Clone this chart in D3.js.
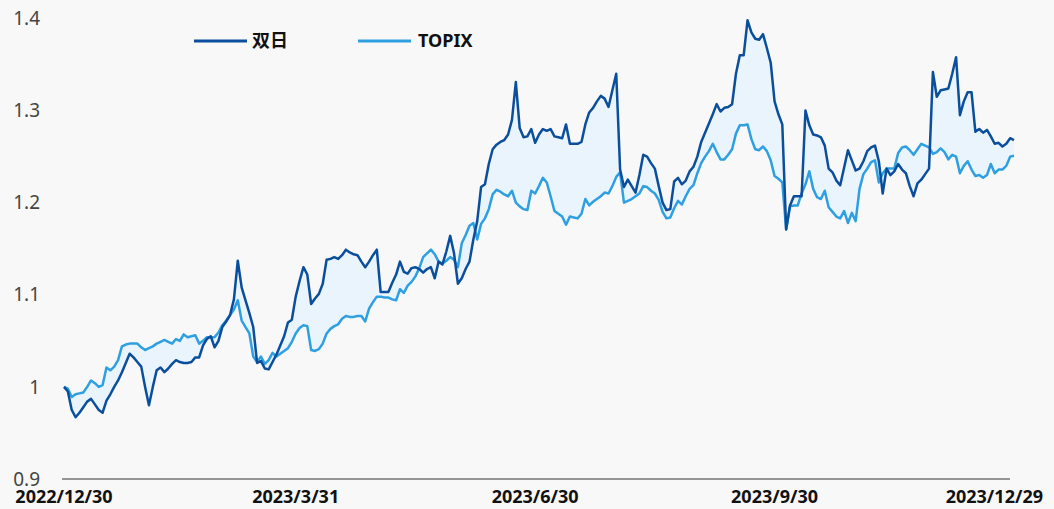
<!DOCTYPE html>
<html lang="ja">
<head>
<meta charset="UTF-8">
<title>双日 vs TOPIX</title>
<script src="https://d3js.org/d3.v7.min.js"></script>
<style>
  body { margin: 0; background: #f8f8f8; }
  svg { display: block; font-family: "Noto Sans", "Noto Sans CJK JP", sans-serif; }
</style>
</head>
<body>
<div id="chart"></div>
<script>
// 2022/12/30 = 1 として指数化（営業日ごと）
const sojitz = [
  1.000, 0.995, 0.975, 0.967, 0.972, 0.978, 0.984, 0.987, 0.981, 0.975,
  0.972, 0.985, 0.992, 1.000, 1.007, 1.016, 1.026, 1.036, 1.032, 1.027,
  1.022, 1.000, 0.980, 1.000, 1.018, 1.021, 1.016, 1.020, 1.025, 1.029,
  1.027, 1.026, 1.026, 1.027, 1.032, 1.032, 1.045, 1.052, 1.055, 1.043,
  1.050, 1.065, 1.071, 1.078, 1.095, 1.137, 1.108, 1.094, 1.080, 1.065,
  1.026, 1.028, 1.020, 1.019, 1.027, 1.035, 1.045, 1.055, 1.070, 1.073,
  1.098, 1.115, 1.130, 1.122, 1.090, 1.096, 1.101, 1.112, 1.138, 1.139,
  1.141, 1.139, 1.143, 1.149, 1.146, 1.144, 1.143, 1.136, 1.130, 1.136,
  1.143, 1.149, 1.103, 1.103, 1.103, 1.113, 1.122, 1.136, 1.125, 1.123,
  1.129, 1.130, 1.128, 1.124, 1.128, 1.130, 1.118, 1.136, 1.133, 1.147,
  1.164, 1.145, 1.112, 1.118, 1.128, 1.136, 1.160, 1.180, 1.217, 1.220,
  1.242, 1.258, 1.263, 1.266, 1.268, 1.274, 1.290, 1.331, 1.281, 1.271,
  1.272, 1.280, 1.265, 1.274, 1.280, 1.278, 1.280, 1.272, 1.271, 1.270,
  1.285, 1.264, 1.264, 1.264, 1.266, 1.285, 1.298, 1.303, 1.310, 1.316,
  1.313, 1.304, 1.322, 1.340, 1.236, 1.217, 1.225, 1.218, 1.211, 1.230,
  1.252, 1.250, 1.243, 1.237, 1.218, 1.200, 1.192, 1.193, 1.223, 1.227,
  1.220, 1.224, 1.234, 1.239, 1.250, 1.266, 1.276, 1.286, 1.296, 1.307,
  1.299, 1.303, 1.304, 1.307, 1.340, 1.360, 1.360, 1.398, 1.385, 1.378,
  1.377, 1.383, 1.368, 1.352, 1.310, 1.296, 1.285, 1.171, 1.197, 1.207,
  1.207, 1.207, 1.300, 1.284, 1.274, 1.273, 1.271, 1.262, 1.237, 1.233,
  1.224, 1.219, 1.238, 1.257, 1.246, 1.235, 1.237, 1.245, 1.256, 1.260,
  1.262, 1.245, 1.210, 1.237, 1.230, 1.234, 1.242, 1.236, 1.232, 1.218,
  1.207, 1.221, 1.225, 1.231, 1.237, 1.342, 1.315, 1.322, 1.323, 1.324,
  1.340, 1.358, 1.295, 1.310, 1.320, 1.320, 1.277, 1.280, 1.276, 1.279,
  1.272, 1.264, 1.265, 1.261, 1.264, 1.270, 1.268
];
const topix = [
  1.000, 0.998, 0.989, 0.992, 0.993, 0.994, 1.000, 1.007, 1.004, 1.000,
  1.002, 1.021, 1.018, 1.022, 1.029, 1.044, 1.046, 1.047, 1.047, 1.047,
  1.043, 1.040, 1.042, 1.044, 1.047, 1.049, 1.051, 1.049, 1.047, 1.052,
  1.050, 1.057, 1.054, 1.055, 1.056, 1.047, 1.050, 1.054, 1.054, 1.054,
  1.059, 1.067, 1.072, 1.078, 1.084, 1.094, 1.072, 1.065, 1.058, 1.033,
  1.027, 1.033, 1.025, 1.029, 1.037, 1.033, 1.036, 1.039, 1.042, 1.049,
  1.058, 1.064, 1.067, 1.066, 1.040, 1.039, 1.041, 1.047, 1.058, 1.063,
  1.066, 1.068, 1.074, 1.077, 1.076, 1.076, 1.077, 1.077, 1.071, 1.085,
  1.092, 1.098, 1.098, 1.097, 1.097, 1.095, 1.094, 1.106, 1.102, 1.110,
  1.114, 1.120, 1.129, 1.141, 1.145, 1.149, 1.144, 1.136, 1.134, 1.137,
  1.141, 1.138, 1.130, 1.156, 1.165, 1.175, 1.178, 1.160, 1.177, 1.183,
  1.193, 1.209, 1.214, 1.212, 1.209, 1.207, 1.213, 1.200, 1.196, 1.193,
  1.192, 1.213, 1.210, 1.218, 1.227, 1.222, 1.207, 1.191, 1.188, 1.185,
  1.176, 1.185, 1.184, 1.183, 1.188, 1.204, 1.197, 1.201, 1.204, 1.207,
  1.211, 1.210, 1.218, 1.228, 1.233, 1.200, 1.202, 1.204, 1.207, 1.210,
  1.218, 1.217, 1.213, 1.210, 1.203, 1.190, 1.183, 1.184, 1.194, 1.202,
  1.198, 1.207, 1.215, 1.219, 1.232, 1.243, 1.250, 1.256, 1.264, 1.255,
  1.247, 1.247, 1.252, 1.258, 1.275, 1.284, 1.284, 1.285, 1.269, 1.258,
  1.257, 1.261, 1.256, 1.246, 1.229, 1.226, 1.222, 1.171, 1.196, 1.197,
  1.197, 1.210, 1.220, 1.234, 1.215, 1.206, 1.204, 1.213, 1.195, 1.190,
  1.185, 1.183, 1.191, 1.178, 1.189, 1.180, 1.215, 1.231, 1.237, 1.244,
  1.246, 1.222, 1.232, 1.237, 1.237, 1.237, 1.254, 1.260, 1.261, 1.257,
  1.252, 1.258, 1.264, 1.262, 1.260, 1.253, 1.255, 1.259, 1.255, 1.247,
  1.252, 1.250, 1.232, 1.240, 1.245, 1.236, 1.229, 1.230, 1.227, 1.230,
  1.242, 1.232, 1.236, 1.236, 1.240, 1.250, 1.251
];
const seriesNames = ["双日", "TOPIX"];
const seriesColors = ["#0b4f9c", "#2e9fe0"];
const yTicks = [0.9, 1, 1.1, 1.2, 1.3, 1.4];
const xTickIndex = [0, 60, 122, 184, 246];
const xTickLabels = ["2022/12/30", "2023/3/31", "2023/6/30", "2023/9/30", "2023/12/29"];

const width = 1054, height = 509;
const margin = { top: 18.5, right: 40, bottom: 30, left: 64 };

const svg = d3.select("#chart").append("svg")
  .attr("width", width)
  .attr("height", height);

const x = d3.scaleLinear()
  .domain([0, sojitz.length - 1])
  .range([margin.left, width - margin.right]);

const y = d3.scaleLinear()
  .domain([0.9, 1.4])
  .range([height - margin.bottom, margin.top]);

// 2本の線の間を塗る
const band = d3.area()
  .x((d, i) => x(i))
  .y0((d, i) => y(topix[i]))
  .y1(d => y(d));

svg.append("path")
  .datum(sojitz)
  .attr("fill", "#eaf4fd")
  .attr("d", band);

// x軸の線
svg.append("line")
  .attr("x1", x(0) - 2).attr("x2", x(sojitz.length - 1) - 4)
  .attr("y1", y(0.9)).attr("y2", y(0.9))
  .attr("stroke", "#333")
  .attr("stroke-width", 1.2);

// y軸ラベル（右揃え）
svg.append("g").selectAll("text")
  .data(yTicks)
  .join("text")
  .attr("x", 40)
  .attr("y", d => y(d))
  .attr("dy", "0.35em")
  .attr("text-anchor", "end")
  .attr("font-size", 19)
  .attr("fill", "#444")
  .text(d => String(d));

// x軸ラベル
const xl = svg.append("g").selectAll("text")
  .data(xTickIndex)
  .join("text")
  .attr("x", d => x(d))
  .attr("y", 503)
  .attr("text-anchor", "middle")
  .attr("font-size", 18)
  .attr("font-weight", "bold")
  .attr("fill", "#111")
  .text((d, i) => xTickLabels[i]);

// はみ出すラベルを内側へ寄せる
xl.each(function (d) {
  const w = this.getComputedTextLength();
  const cx = Math.max(9 + w / 2, Math.min(x(d), width - 11 - w / 2));
  d3.select(this).attr("x", cx);
});

// 折れ線
const line = d3.line()
  .x((d, i) => x(i))
  .y(d => y(d));

[topix, sojitz].forEach((s, k) => {
  svg.append("path")
    .datum(s)
    .attr("fill", "none")
    .attr("stroke", k === 0 ? seriesColors[1] : seriesColors[0])
    .attr("stroke-width", 2.5)
    .attr("stroke-linejoin", "round")
    .attr("d", line);
});

// 凡例
const legendX = [194, 358];
const legend = svg.append("g").selectAll("g")
  .data(seriesNames)
  .join("g")
  .attr("transform", (d, i) => `translate(${legendX[i]},41)`);

legend.append("line")
  .attr("x1", 0).attr("x2", 53)
  .attr("stroke", (d, i) => seriesColors[i])
  .attr("stroke-width", 3);

legend.append("text")
  .attr("x", (d, i) => i === 0 ? 58 : 60)
  .attr("dy", "0.35em")
  .attr("font-size", 18)
  .attr("font-weight", "bold")
  .attr("fill", "#111")
  .text(d => d);
</script>
</body>
</html>
